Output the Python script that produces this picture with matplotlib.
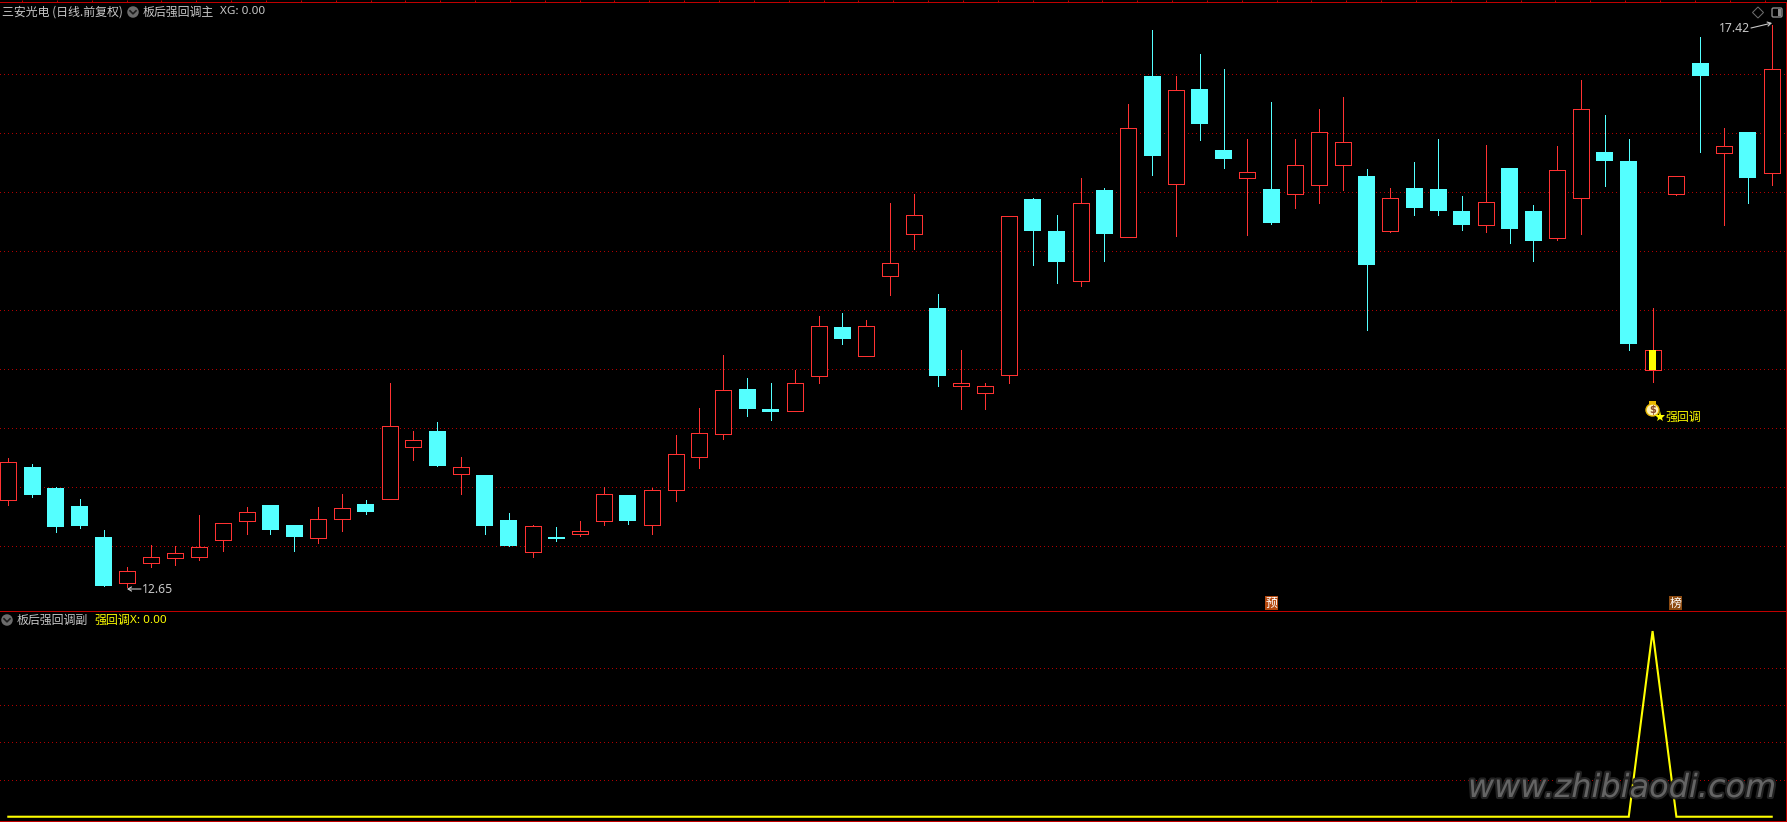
import numpy as np
import matplotlib
matplotlib.use('Agg')
import matplotlib.pyplot as plt
import matplotlib.patheffects as pe
from matplotlib.patches import Ellipse, FancyBboxPatch, Polygon, Rectangle

plt.rcParams['font.family'] = ['Noto Sans CJK SC', 'DejaVu Sans']

# daily prices
opens = [13.39, 13.67, 13.49, 13.34, 13.08, 12.69, 12.86, 12.90, 12.91, 13.05,
         13.21, 13.35, 13.18, 13.07, 13.23, 13.36, 13.40, 13.84, 13.98, 13.61,
         13.60, 13.22, 12.95, 13.08, 13.10, 13.21, 13.43, 13.18, 13.48, 13.76,
         13.95, 14.33, 14.16, 14.15, 14.44, 14.86, 14.61, 15.29, 15.65, 15.02,
         14.36, 14.30, 14.45, 15.94, 15.67, 15.25, 16.02, 15.62, 16.99, 16.07,
         16.88, 16.36, 16.12, 16.03, 15.99, 16.06, 16.23, 16.14, 15.67, 16.04,
         16.03, 15.84, 15.72, 16.21, 15.84, 15.61, 15.95, 16.34, 16.27, 14.49,
         15.99, 17.10, 16.33, 16.51, 16.16]
closes = [13.71, 13.43, 13.16, 13.17, 12.66, 12.79, 12.91, 12.94, 12.99, 13.20,
          13.29, 13.14, 13.08, 13.23, 13.32, 13.29, 14.02, 13.90, 13.68, 13.67,
          13.17, 13.00, 13.17, 13.06, 13.13, 13.44, 13.21, 13.48, 13.78, 13.96,
          14.32, 14.16, 14.14, 14.38, 14.87, 14.76, 14.87, 15.40, 15.81, 14.44,
          14.38, 14.36, 15.80, 15.67, 15.41, 15.91, 15.65, 16.55, 16.31, 16.87,
          16.58, 16.28, 16.17, 15.74, 16.23, 16.51, 16.43, 15.38, 15.95, 15.87,
          15.84, 15.72, 15.92, 15.69, 15.59, 16.19, 16.71, 16.27, 14.71, 14.66,
          16.14, 16.99, 16.39, 16.12, 17.05]
highs = [13.75, 13.70, 13.50, 13.40, 13.14, 12.82, 13.01, 13.00, 13.26, 13.20,
         13.33, 13.35, 13.18, 13.33, 13.44, 13.39, 14.38, 13.98, 14.05, 13.76,
         13.60, 13.28, 13.18, 13.16, 13.21, 13.50, 13.43, 13.49, 13.94, 14.17,
         14.62, 14.43, 14.38, 14.49, 14.95, 14.98, 14.92, 15.91, 15.99, 15.14,
         14.66, 14.38, 15.80, 15.95, 15.81, 16.12, 16.04, 16.75, 17.38, 16.99,
         17.17, 17.05, 16.45, 16.77, 16.45, 16.71, 16.81, 16.20, 16.04, 16.26,
         16.45, 15.97, 16.40, 16.21, 15.89, 16.39, 16.95, 16.66, 16.45, 15.02,
         16.14, 17.32, 16.55, 16.51, 17.42]
lows = [13.35, 13.42, 13.12, 13.15, 12.66, 12.65, 12.82, 12.84, 12.88, 12.96,
        13.10, 13.10, 12.96, 13.03, 13.13, 13.27, 13.40, 13.73, 13.68, 13.44,
        13.10, 13.00, 12.91, 13.04, 13.09, 13.18, 13.19, 13.10, 13.38, 13.66,
        13.91, 14.10, 14.07, 14.15, 14.38, 14.71, 14.61, 15.13, 15.52, 14.36,
        14.16, 14.16, 14.38, 15.38, 15.23, 15.21, 15.42, 15.62, 16.15, 15.63,
        16.44, 16.21, 15.64, 15.73, 15.87, 15.91, 16.02, 14.83, 15.66, 15.81,
        15.81, 15.68, 15.66, 15.57, 15.42, 15.60, 15.65, 16.05, 14.66, 14.39,
        15.98, 16.34, 15.72, 15.91, 16.06]
# indicator: fires once, on the yellow candle
signal = [0] * 69 + [1] + [0] * 5
signal_day = 69
price_grid = [13.0, 13.5, 14.0, 14.5, 15.0, 15.5, 16.0, 16.5, 17.0]
signal_grid = [0.2, 0.4, 0.6, 0.8]

RED = '#ff3232'
CYAN = '#54ffff'
YELLOW = '#ffff00'
GRID = '#b00000'
BORDER = '#c00000'
TEXT = '#c8c8c8'

W, H = 1787, 822
fig = plt.figure(figsize=(W / 100, H / 100), dpi=100, facecolor='black')
PX = 0.72  # one pixel, in points

# px -> axes: candle 0 sits at x=8.3, candles are 23.83 px apart
xlim = (-8.3 / 23.83, (1786 - 8.3) / 23.83)
ax = fig.add_axes([0, 1 - 611 / H, 1786 / W, (611 - 2.5) / H], facecolor='black')
ax2 = fig.add_axes([0, 1 - 821 / H, 1786 / W, (821 - 611) / H], facecolor='black')

for a, levels in ((ax, price_grid), (ax2, signal_grid)):
    a.hlines(levels, *xlim, color=GRID, lw=PX, linestyles=(0, (1, 3)), zorder=1, antialiased=False)
    a.set_yticks([])
    for s in a.spines.values():
        s.set_color(BORDER)
        s.set_linewidth(PX)
    a.spines['left'].set_visible(False)

# little ticks above the top border
tick_px = 22 + 34.85 * np.arange(51)
ax.set_xticks((tick_px - 8.3) / 23.83)
ax.set_xticklabels([])
ax.xaxis.set_ticks_position('top')
ax.tick_params(axis='x', color=BORDER, length=1.6, width=PX, direction='out')
ax2.set_xticks([])

x = np.arange(len(opens))
o = np.array(opens)
c = np.array(closes)
lo = np.array(lows)
hi = np.array(highs)
up = c > o
ax.vlines(x[up], lo[up], hi[up], color=RED, lw=PX, zorder=2, antialiased=False)
ax.vlines(x[~up], lo[~up], hi[~up], color=CYAN, lw=PX, zorder=2, antialiased=False)
ax.bar(x[up], (c - o)[up], bottom=o[up], width=16 / 23.83, facecolor='black', edgecolor=RED, lw=PX,
       zorder=3, antialiased=False)
ax.bar(x[~up], (o - c)[~up], bottom=c[~up], width=17 / 23.83, facecolor=CYAN, edgecolor='none',
       zorder=3, antialiased=False)
# yellow stripe inside the signal candle
ax.bar(signal_day, closes[signal_day] - opens[signal_day], bottom=opens[signal_day], width=7 / 23.83,
       facecolor=YELLOW, edgecolor='none', zorder=4, antialiased=False)

ax2.plot(x, signal, color=YELLOW, lw=1.5, zorder=3, solid_joinstyle='miter')

# set_xticks and bar move the limits, so fix them last
ax.set_xlim(*xlim)
ax.set_ylim(12.45, 17.61)
ax2.set_xlim(*xlim)
ax2.set_ylim(-0.023, 1.108)

# overlay in pixel coordinates for the labels and icons
ov = fig.add_axes([0, 0, 1, 1], facecolor='none')
ov.set_xlim(0, W)
ov.set_ylim(H, 0)
ov.axis('off')


def label(px, py, s, color=TEXT, size=8.6, **kw):
    ov.text(px, py, s, color=color, fontsize=size, va='center', ha='left', **kw)


def chevron(px, py):
    ov.add_patch(Ellipse((px, py), 11.5, 11.5, facecolor='#6b6b6b', edgecolor='none'))
    ov.plot([px - 3, px, px + 3], [py - 1.2, py + 1.8, py - 1.2], color='#1c1c1c', lw=1.2)


label(2, 12, '三安光电 (日线.前复权)')
chevron(133, 12)
label(143, 12, '板后强回调主')
label(220, 12, 'XG: 0.00', family='Noto Sans', size=8.4)

chevron(7, 620)
label(17, 620, '板后强回调副')
label(94, 620, '强回调', color=YELLOW)
label(130, 620, 'X: 0.00', color=YELLOW, family='Noto Sans', size=8.4)

# high / low notes
label(142, 589, '12.65', family='Noto Sans', size=8.8)
ov.annotate('', xy=(127, 589), xytext=(141, 589),
            arrowprops=dict(arrowstyle='->,head_length=0.25,head_width=0.15', color=TEXT, lw=0.8, shrinkA=0, shrinkB=0))
label(1719, 29, '17.42', family='Noto Sans', size=8.8)
ov.annotate('', xy=(1772, 23), xytext=(1751, 28),
            arrowprops=dict(arrowstyle='->,head_length=0.25,head_width=0.15', color=TEXT, lw=0.8, shrinkA=0, shrinkB=0))

# top right icons
ov.add_patch(Polygon([[1758, 7], [1763.5, 12.5], [1758, 18], [1752.5, 12.5]], closed=True,
                     facecolor='none', edgecolor='#6e6e6e', lw=PX))
ov.add_patch(FancyBboxPatch((1772, 8), 10, 9, boxstyle='round,pad=0,rounding_size=1.5',
                            facecolor='black', edgecolor='#8a8a8a', lw=1.0))
ov.add_patch(Rectangle((1777.5, 9), 3.5, 7, facecolor='#8a8a8a', edgecolor='none'))

# event tags above the separator
for px, s, col in ((1271.5, '预', '#b4480e'), (1675.5, '榜', '#8c4a10')):
    ov.text(px, 603, s, color='white', fontsize=8.6, ha='center', va='center',
            bbox=dict(boxstyle='square,pad=0.08', facecolor=col, edgecolor='none'))

# money bag, star and the signal text under the candle
ov.add_patch(Ellipse((1652.5, 410), 13, 12, facecolor='#fff2b8', edgecolor='#e8b800', lw=1.0, zorder=5))
ov.add_patch(Rectangle((1649, 401), 7, 3, facecolor='#e8b800', edgecolor='none', zorder=5))
ov.text(1652.5, 410, '$', color='#8a4a2a', fontsize=7, ha='center', va='center', family='DejaVu Sans',
        fontweight='bold', zorder=6)
ov.plot([1660], [417], marker='*', color=YELLOW, ms=8, mew=0, zorder=7)
label(1665, 417, '强回调', color=YELLOW)

# site watermark over the lower panel
ov.text(1468, 797, 'www.zhibiaodi.com', color='#686868', fontsize=23, family='DejaVu Sans', style='italic',
        ha='left', va='baseline', alpha=0.95, zorder=8,
        path_effects=[pe.withStroke(linewidth=3, foreground='#242424')])

fig.savefig('out.png', dpi=100, facecolor='black')
